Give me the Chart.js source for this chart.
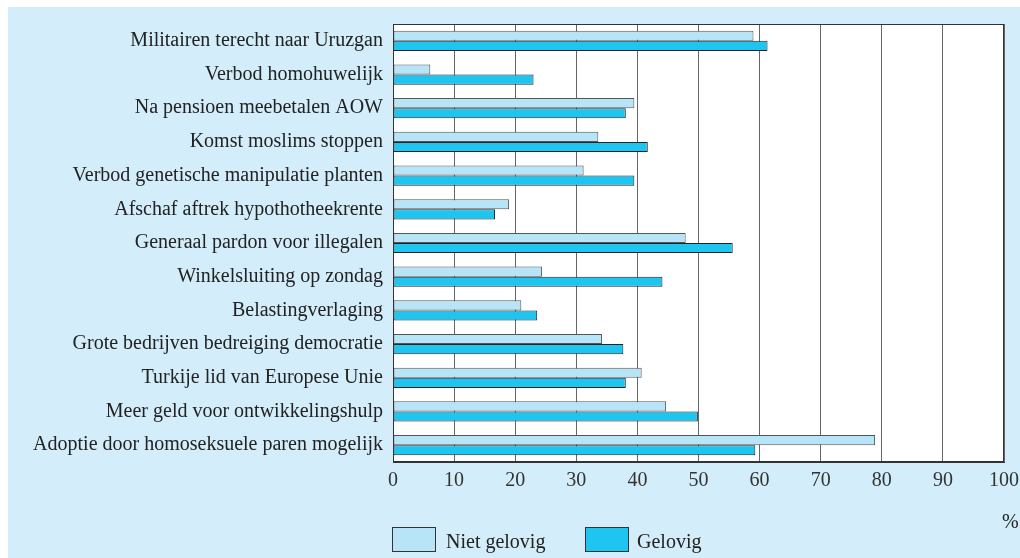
<!DOCTYPE html>
<html lang="nl">
<head>
    <meta charset="UTF-8">
    <title>Gelovig / niet gelovig</title>
    <script src="https://cdn.jsdelivr.net/npm/chart.js"></script>
    <style>
        html, body { margin: 0; padding: 0; background: #fff; }
        #wrap { position: relative; width: 1020px; height: 558px; }
        #chart { position: absolute; left: 0; top: 0; }
        .lbl { position: absolute; font-family: "Liberation Serif", serif; font-size: 20px; color: #222; }
        .box { position: absolute; width: 42px; height: 23px; border: 1px solid #333; }
    </style>
</head>
<body>
    <div id="wrap">
        <canvas id="chart" width="1020" height="558"></canvas>
        <div class="lbl" style="left:1002px; top:510px;">%</div>
        <div class="box" style="left:392px; top:527px; background:#b8e4f8;"></div>
        <div class="lbl" style="left:446px; top:530px;">Niet gelovig</div>
        <div class="box" style="left:585px; top:527px; background:#1ec5f0;"></div>
        <div class="lbl" style="left:637px; top:530px;">Gelovig</div>
    </div>
    <script>
        // stellingen
        const categories = [
            'Militairen terecht naar Uruzgan',
            'Verbod homohuwelijk',
            'Na pensioen meebetalen AOW',
            'Komst moslims stoppen',
            'Verbod genetische manipulatie planten',
            'Afschaf aftrek hypothotheekrente',
            'Generaal pardon voor illegalen',
            'Winkelsluiting op zondag',
            'Belastingverlaging',
            'Grote bedrijven bedreiging democratie',
            'Turkije lid van Europese Unie',
            'Meer geld voor ontwikkelingshulp',
            'Adoptie door homoseksuele paren mogelijk'
        ];
        const nietGelovig = [59.0, 6.1, 39.5, 33.6, 31.2, 19.0, 47.9, 24.4, 21.0, 34.2, 40.7, 44.7, 78.9];
        const gelovig = [61.3, 23.0, 38.1, 41.7, 39.5, 16.7, 55.6, 44.1, 23.6, 37.7, 38.1, 49.9, 59.3];
        const xTicks = [0, 10, 20, 30, 40, 50, 60, 70, 80, 90, 100];

        // achtergrondpaneel + wit plotvlak met rand
        const panel = {
            id: 'panel',
            beforeDraw(chart) {
                const c = chart.ctx, a = chart.chartArea;
                c.save();
                c.fillStyle = '#fff';
                c.fillRect(0, 0, chart.width, chart.height);
                c.fillStyle = '#d3eefa';
                c.fillRect(8, 7, chart.width - 8, chart.height - 7);
                c.fillStyle = '#fff';
                c.fillRect(a.left, a.top, a.right - a.left, a.bottom - a.top);
                c.restore();
            },
            afterDraw(chart) {
                const c = chart.ctx, a = chart.chartArea;
                c.save();
                c.strokeStyle = '#333';
                c.lineWidth = 1;
                c.strokeRect(a.left + 0.5, a.top + 0.5, a.right - a.left - 1, a.bottom - a.top - 1);
                c.restore();
            }
        };

        const serif = { family: '"Liberation Serif", serif', size: 20 };

        new Chart(document.getElementById('chart'), {
            type: 'bar',
            data: {
                labels: categories,
                datasets: [{
                    label: 'Niet gelovig',
                    data: nietGelovig,
                    backgroundColor: '#b8e4f8',
                    borderColor: '#555',
                    borderWidth: 1,
                    borderSkipped: false
                }, {
                    label: 'Gelovig',
                    data: gelovig,
                    backgroundColor: '#1ec5f0',
                    borderColor: '#222',
                    borderWidth: 1,
                    borderSkipped: false
                }]
            },
            options: {
                indexAxis: 'y',
                responsive: false,
                animation: false,
                layout: { padding: { left: 0, right: 16, top: 24, bottom: 0 } },
                datasets: { bar: { categoryPercentage: 0.6, barPercentage: 1.0 } },
                plugins: {
                    legend: { display: false },
                    tooltip: { enabled: false }
                },
                scales: {
                    x: {
                        min: 0,
                        max: 100,
                        afterFit(s) { s.height = 96; s.paddingLeft = 0; s.paddingRight = 0; },
                        afterBuildTicks(s) { s.ticks = xTicks.map(v => ({ value: v })); },
                        grid: { color: '#666', lineWidth: 1, drawTicks: false },
                        border: { color: '#333' },
                        ticks: { color: '#333', font: serif, padding: 7, maxRotation: 0 }
                    },
                    y: {
                        afterFit(s) { s.width = 393; s.paddingTop = 0; s.paddingBottom = 0; },
                        grid: { display: false, drawTicks: false },
                        border: { color: '#333' },
                        ticks: { color: '#222', font: serif, padding: 10, autoSkip: false }
                    }
                }
            },
            plugins: [panel]
        });
    </script>
</body>
</html>
